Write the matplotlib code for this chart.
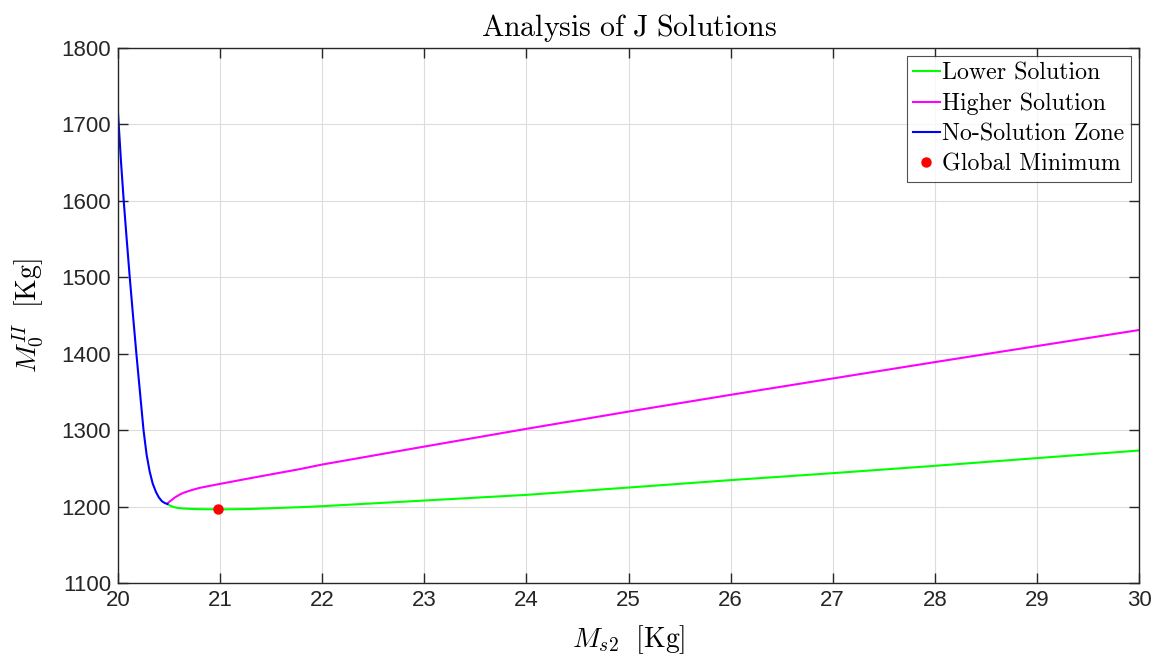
import matplotlib
matplotlib.use("Agg")
import matplotlib.pyplot as plt

plt.rcParams['mathtext.fontset'] = 'cm'

# Data
blue_x = [20.000, 20.007, 20.030, 20.056, 20.085, 20.115, 20.147, 20.180, 20.215,
          20.250, 20.280, 20.310, 20.340, 20.372, 20.400, 20.430, 20.460, 20.483]
blue_y = [1715, 1700, 1650, 1600, 1550, 1500, 1450, 1400, 1350,
          1300, 1268, 1246, 1230, 1219, 1212, 1207, 1204.5, 1203.5]

green_x = [20.483, 20.51, 20.54, 20.58, 20.64, 20.72, 20.80, 21.0, 21.29, 21.78, 22, 23, 24,
           25, 26, 27, 28, 29, 30]
green_y = [1203.5, 1201.2, 1199.6, 1198.3, 1197.4, 1196.9, 1196.6, 1196.3, 1196.8, 1199.2,
           1200.5, 1207.9, 1215.3, 1224.9, 1234.6, 1243.7, 1253.3, 1263.4, 1273.3]

mag_x = [20.483, 20.50, 20.52, 20.558, 20.60, 20.64, 20.72, 20.80, 21.0, 21.29, 21.78, 22,
         23, 24, 25, 26, 27, 28, 29, 30]
mag_y = [1203.5, 1206, 1208, 1212, 1215.3, 1218, 1221.5, 1224.5, 1229.7, 1237, 1249, 1255,
         1278.5, 1301.7, 1324.3, 1346.2, 1367.6, 1389, 1410, 1431]

min_x = [20.976]
min_y = [1196.5]

xticks = list(range(20, 31))
yticks = list(range(1100, 1801, 100))

fig = plt.figure(figsize=(11.58, 6.58), dpi=100)
ax = fig.add_axes([118/1158, 1-583/658, (1139-118)/1158, (583-48)/658])

ax.plot(green_x, green_y, color='#00ff00', lw=1.5, label='Lower Solution')
ax.plot(mag_x, mag_y, color='#ff00ff', lw=1.5, label='Higher Solution')
ax.plot(blue_x, blue_y, color='#0000ff', lw=1.5, label='No-Solution Zone')
ax.plot(min_x, min_y, 'o', color='#ff0000', ms=6.5, ls='none', label='Global Minimum')

ax.set_xlim(20, 30)
ax.set_ylim(1100, 1800)
ax.set_xticks(xticks)
ax.set_yticks(yticks)
ax.set_xticklabels([str(t) for t in xticks], fontsize=16, family='Liberation Sans', color='#262626')
ax.set_yticklabels([str(t) for t in yticks], fontsize=16, family='Liberation Sans', color='#262626')
ax.tick_params(direction='in', length=7.5, width=1.0, top=True, right=True, color='#262626', pad=5)
ax.grid(True, color='#dcdcdc', lw=0.8)
ax.set_axisbelow(True)
for s in ax.spines.values():
    s.set_color('#262626')
    s.set_linewidth(1.0)

ax.set_title(r'$\mathrm{Analysis\ of\ J\ Solutions}$', fontsize=21.5, pad=9)
ax.set_xlabel(r'$M_{s2}\ \ \mathrm{[Kg]}$', fontsize=20, labelpad=9)
ax.set_ylabel(r'$M_0^{II}\ \ \mathrm{[Kg]}$', fontsize=20, labelpad=11)

leg = ax.legend(loc='upper right', frameon=True, fancybox=False,
                handlelength=1.15, handletextpad=0.1, borderpad=0.25, labelspacing=0.34,
                borderaxespad=0.35, prop={'family': 'cmr10', 'size': 17.2})
leg.get_frame().set_edgecolor('#262626')
leg.get_frame().set_linewidth(0.8)

fig.savefig('out.png', dpi=100)
